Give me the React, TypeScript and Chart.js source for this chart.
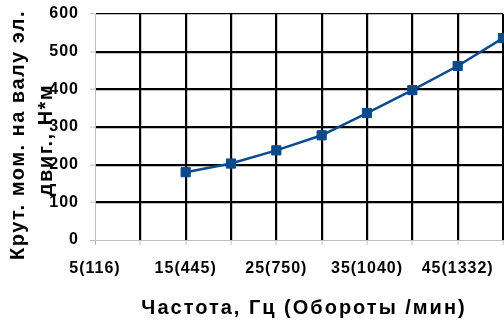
import React, { useEffect, useRef } from "react";
import { Chart, registerables } from "chart.js";

Chart.register(...registerables);

const freqHz = [15, 20, 25, 30, 35, 40, 45, 50];
const torque = [180, 203, 238, 278, 337, 398, 462, 536];
const xTickValues = [5, 15, 25, 35, 45];
const xTickLabels = ["5(116)", "15(445)", "25(750)", "35(1040)", "45(1332)"];
const yTitleLines = ["Крут. мом. на валу эл.", "двиг., Н*м"];
const xTitle = "Частота, Гц (Обороты /мин)";

const FONT = "'Liberation Sans', Arial, sans-serif";

const spacingPlugin = {
  id: "spacing",
  beforeLayout(chart: any) {
    chart.ctx.letterSpacing = "1px";
  },
  beforeDraw(chart: any) {
    chart.ctx.letterSpacing = "1px";
  },
};

const titlesPlugin = {
  id: "titles",
  afterDraw(chart: any) {
    const ctx = chart.ctx;
    ctx.save();
    ctx.fillStyle = "#000";
    ctx.font = `bold 20px ${FONT}`;
    ctx.textAlign = "center";
    ctx.textBaseline = "middle";
    ctx.letterSpacing = "2px";
    ctx.fillText(xTitle, 304, 308);
    ctx.restore();
    ctx.save();
    ctx.fillStyle = "#000";
    ctx.font = `bold 20px ${FONT}`;
    ctx.textAlign = "center";
    ctx.textBaseline = "middle";
    ctx.letterSpacing = "1.5px";
    ctx.save();
    ctx.translate(18, 135);
    ctx.rotate(-Math.PI / 2);
    ctx.fillText(yTitleLines[0], 0, 0);
    ctx.restore();
    ctx.translate(46, 140);
    ctx.rotate(-Math.PI / 2);
    ctx.fillText(yTitleLines[1], 0, 0);
    ctx.restore();
  },
};

export default function App() {
  const ref = useRef<HTMLCanvasElement | null>(null);
  useEffect(() => {
    document.body.style.margin = "0";
    const canvas = ref.current!;
    const chart = new Chart(canvas, {
      type: "line",
      data: {
        datasets: [
          {
            data: freqHz.map((x, i) => ({ x, y: torque[i] })),
            borderColor: "#0B4A8B",
            backgroundColor: "#0B4A8B",
            borderWidth: 2.5,
            pointStyle: "rect",
            pointRadius: 6.5,
            pointBorderWidth: 1,
            clip: false as any,
          },
        ],
      },
      options: {
        responsive: false,
        animation: false,
        layout: { autoPadding: false, padding: { top: 14, right: 1, left: 0, bottom: 0 } },
        plugins: { legend: { display: false }, tooltip: { enabled: false } },
        scales: {
          x: {
            type: "linear",
            min: 5,
            max: 50,
            afterBuildTicks(scale: any) {
              const t = [];
              for (let v = 5; v <= 50; v += 5) t.push({ value: v });
              scale.ticks = t;
            },
            afterFit(scale: any) {
              scale.height = 83;
              scale.paddingLeft = 0;
              scale.paddingRight = 0;
            },
            ticks: {
              autoSkip: false,
              maxRotation: 0,
              padding: 14,
              color: "#000",
              font: { family: FONT, size: 16, weight: "bold" },
              callback(value: any) {
                const i = xTickValues.indexOf(Number(value));
                return i >= 0 ? xTickLabels[i] : "";
              },
            },
            grid: {
              color: (c: any) => (c.tick && c.tick.value === 5 ? "#BFBFBF" : "#000"),
              lineWidth: (c: any) => (c.tick && c.tick.value === 5 ? 1 : 2.2),
              tickColor: "#BFBFBF",
              tickWidth: 1,
              tickLength: 5,
            },
            border: { color: "#BFBFBF", width: 1 },
          },
          y: {
            min: 0,
            max: 600,
            ticks: {
              stepSize: 100,
              padding: 11,
              color: "#000",
              font: { family: FONT, size: 16, weight: "bold" },
            },
            afterFit(scale: any) {
              scale.width = 95;
              scale.paddingTop = 0;
              scale.paddingBottom = 0;
            },
            grid: {
              color: (c: any) => (c.tick && c.tick.value === 0 ? "#BFBFBF" : "#000"),
              lineWidth: (c: any) =>
                c.tick && c.tick.value === 0 ? 1 : c.tick && c.tick.value === 600 ? 1.2 : 2.2,
              tickColor: "#BFBFBF",
              tickWidth: 1,
              tickLength: 5,
            },
            border: { color: "#BFBFBF", width: 1 },
          },
        },
      },
      plugins: [spacingPlugin, titlesPlugin],
    });
    return () => chart.destroy();
  }, []);
  return (
    <div style={{ width: 504, height: 323 }}>
      <canvas ref={ref} width={504} height={323} />
    </div>
  );
}
